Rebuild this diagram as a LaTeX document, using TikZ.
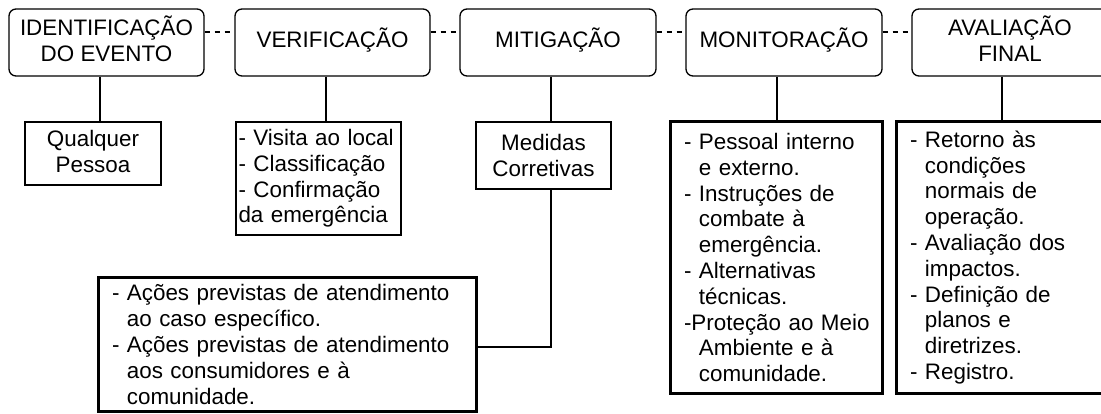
\documentclass[tikz,border=0pt]{standalone}
\usepackage{fontspec}
\setmainfont{Liberation Sans}
\newcommand{\dpstrut}[1]{\rule[-#1pt]{0pt}{#1pt}}
\begin{document}
\begin{tikzpicture}[x=1pt,y=-1pt,
  txt/.style={font=\fontsize{22.4}{25.8}\selectfont},
  phase/.style={txt,draw,line width=1.3pt,rounded corners=7pt,minimum height=67pt,inner sep=0pt,align=center},
  thinbox/.style={txt,draw,line width=1.4pt,inner sep=0pt,align=center},
  listbox/.style={txt,draw,line width=1.4pt,inner ysep=0pt,align=left},
  thickbox/.style={txt,draw,line width=3pt,inner ysep=0pt,inner xsep=14pt,align=left},
  conn/.style={line width=1.3pt},
  dashlink/.style={line width=1.3pt,dash pattern=on 5pt off 5pt}]
\clip (0,0) rectangle (1101,414);
\fill[white] (0,0) rectangle (1101,414);
% phases
\node[phase,minimum width=195pt] (t1) at (106.5,42.5) {IDENTIFICAÇÃO\\DO EVENTO\dpstrut{8}};
\node[phase,minimum width=195pt] (t2) at (332.5,42.5) {VERIFICAÇÃO\dpstrut{10}};
\node[phase,minimum width=196pt] (t3) at (558,42.5) {MITIGAÇÃO\dpstrut{10}};
\node[phase,minimum width=196pt] (t4) at (784,42.5) {MONITORAÇÃO\dpstrut{10}};
\node[phase,minimum width=196pt] (t5) at (1010,42.5) {AVALIAÇÃO\\FINAL\dpstrut{8}};
% dashed links
\draw[dashlink] (t1.east |- 0,32) -- (t2.west |- 0,32);
\draw[dashlink] (t2.east |- 0,32) -- (t3.west |- 0,32);
\draw[dashlink] (t3.east |- 0,32) -- (t4.west |- 0,32);
\draw[dashlink] (t4.east |- 0,32) -- (t5.west |- 0,32);
% sub boxes
\node[thinbox,minimum width=136pt,minimum height=63pt] (s1) at (93,153.5) {Qualquer\\Pessoa\dpstrut{4}};
\node[listbox,inner xsep=2.5pt,text width=160pt,minimum height=113pt] (s2) at (318.5,178.5)
  {- Visita ao local\\- Classificação\\- Confirmação\\da emergência};
\node[thinbox,minimum width=135pt,minimum height=67pt] (s3) at (543.5,155.5) {Medidas\\Corretivas};
\node[thickbox,text width=184pt,minimum height=271pt] (s4) at (776,257.5)
  {\mbox{- Pessoal interno}\\\phantom{- }e externo.\\- Instruções de\\\phantom{- }combate à\\\phantom{- }emergência.\\- Alternativas\\\phantom{- }técnicas.\\\mbox{-Proteção ao Meio}\\\phantom{- }Ambiente e à\\\phantom{- }comunidade.};
\node[thickbox,text width=184pt,minimum height=271pt] (s5) at (1002,257.5)
  {- Retorno às\\\phantom{- }condições\\\phantom{- }normais de\\\phantom{- }operação.\\- Avaliação dos\\\phantom{- }impactos.\\- Definição de\\\phantom{- }planos e\\\phantom{- }diretrizes.\\- Registro.};
\node[thickbox,text width=350pt,minimum height=133pt] (big) at (287,344.5)
  {\mbox{- Ações previstas de atendimento}\\\phantom{- }ao caso específico.\\\mbox{- Ações previstas de atendimento}\\\phantom{- }aos consumidores e à\\\phantom{- }comunidade.};
% connectors
\draw[conn] (t1.south -| 100,0) -- (s1.north -| 100,0);
\draw[conn] (t2.south -| 326,0) -- (s2.north -| 326,0);
\draw[conn] (t3.south -| 551,0) -- (s3.north -| 551,0);
\draw[conn] (s3.south -| 551,0) |- (big.east |- 0,347);
\draw[conn] (t4.south -| 777,0) -- (s4.north -| 777,0);
\draw[conn] (t5.south -| 1002,0) -- (s5.north -| 1002,0);
\end{tikzpicture}
\end{document}
